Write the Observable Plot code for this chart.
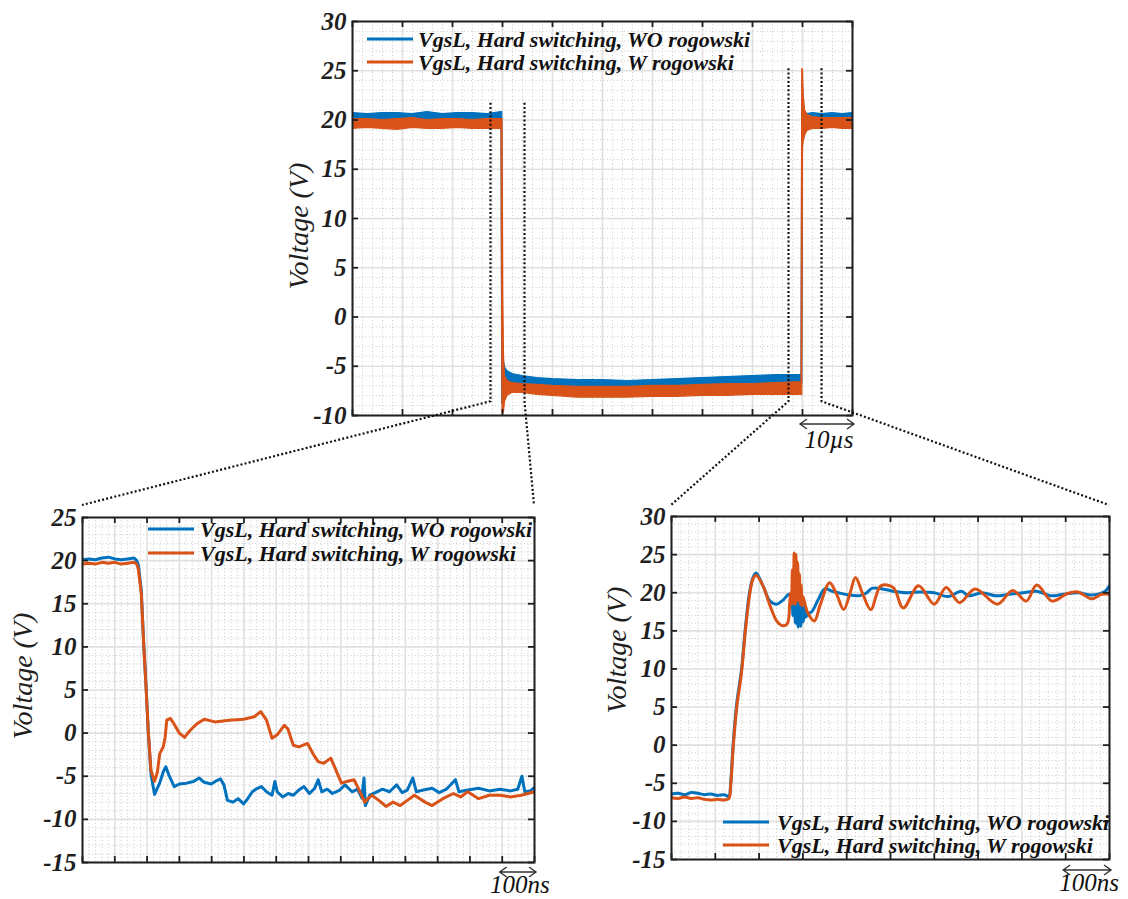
<!DOCTYPE html>
<html><head><meta charset="utf-8">
<script src="https://cdn.jsdelivr.net/npm/d3@7"></script>
<script src="https://cdn.jsdelivr.net/npm/@observablehq/plot@0.6"></script>
<style>
body{margin:0;background:#fff;}
#fig{position:relative;width:1128px;height:899px;overflow:hidden;background:#fff;}
</style></head><body><div id="fig"></div>
<script>
// ---------------- DATA ----------------
const legendLabels = ["VgsL, Hard switching, WO rogowski", "VgsL, Hard switching, W rogowski"];
const yLabel = "Voltage (V)";
const scaleLabels = ["10µs", "100ns", "100ns"];

// Top panel (time in µs): [t, low, high] envelopes of the noisy traces
const topBlue = [[0,19.9,20.7],[3,19.8,20.6],[6,19.9,20.7],[9,19.9,20.7],[12,19.8,20.6],[15,19.9,20.8],[18,19.9,20.6],[21,19.8,20.7],[24,19.9,20.7],[27,19.9,20.6],[29.8,19.9,20.8],
  [29.95,-8.8,20.8],[30.1,-8.8,-2.2],[30.3,-7.2,-4.6],[30.6,-6.9,-5.2],[31,-6.9,-5.5],[32,-6.9,-5.8],[34,-7.0,-6.0],[37,-7.1,-6.2],[40,-7.2,-6.3],[45,-7.3,-6.4],[50,-7.3,-6.4],[55,-7.3,-6.5],[60,-7.2,-6.4],[65,-7.2,-6.3],[70,-7.1,-6.2],[75,-7.0,-6.1],[80,-6.9,-6.0],[85,-6.9,-5.9],[89.8,-6.8,-5.9],
  [89.95,-6.8,21.2],[90.1,19.6,21.3],[90.3,19.8,21.0],[90.6,19.9,20.8],[91,19.9,20.6],[92,19.9,20.7],[94,19.9,20.6],[96,19.9,20.7],[98,19.9,20.6],[100,19.9,20.7]];
const topOrange = [[0,19.1,20.1],[3,19.2,20.1],[6,19.1,20.0],[9,19.0,20.1],[12,19.2,20.2],[15,19.1,20.0],[18,19.1,20.1],[21,19.2,20.1],[24,19.1,20.0],[27,19.1,20.1],[29.8,19.1,20.1],
  [30.0,-9.8,20.1],[30.15,-9.8,2.4],[30.3,-9.6,-4.0],[30.5,-8.6,-6.0],[31,-8.0,-6.5],[32,-7.7,-6.7],[34,-7.7,-6.8],[37,-7.9,-6.9],[40,-8.0,-7.0],[45,-8.2,-7.1],[50,-8.2,-7.1],[55,-8.2,-7.1],[60,-8.1,-7.0],[65,-8.1,-7.0],[70,-8.0,-6.9],[75,-8.0,-6.8],[80,-7.9,-6.8],[85,-7.9,-6.7],[89.8,-7.9,-6.6],
  [89.95,-7.9,25.2],[90.1,17.2,25.0],[90.25,17.8,22.5],[90.5,18.4,21.0],[91,18.9,20.5],[92,19.1,20.3],[94,19.1,20.2],[96,19.2,20.2],[98,19.1,20.2],[100,19.1,20.2]];
const zoomWindowsTop = [[27.7, 34.5], [87.3, 93.9]];   // µs
const zoomTopV = [21.7, 25.2];
const zoomBottomV = -8.6;

// Bottom-left panel (time in ns): [t, V]
const blBlue = [[0,20.1],[20,20.2],[40,20.1],[60,20.3],[80,20.4],[100,20.2],[120,20.1],[140,20.2],[160,20.3],[168,20.0],[173,19.5],[182,16.6],[190,10],[197.5,5],[204,0],[212,-4.7],[223,-7.1],
  [239,-5.8],[250,-4.5],[258,-3.9],[267,-4.8],[284,-6.2],[300,-5.9],[322,-5.8],[344,-5.6],[361,-5.2],[377,-5.7],[399,-5.9],[416,-5.5],[427,-5.3],[438,-6.0],[449,-7.8],[466,-8.0],[482,-7.6],[499,-8.2],[510,-7.7],
  [526,-6.8],[537,-6.5],[554,-6.2],[570,-6.8],[587,-7.2],[596,-5.6],[603,-6.8],[620,-7.4],[637,-7.0],[653,-7.2],[670,-6.6],[686,-6.2],[703,-7.0],[719,-6.4],[730,-5.4],[741,-6.8],[758,-6.5],[774,-7.0],[797,-6.6],[813,-6.0],
  [835,-6.8],[852,-6.5],[865,-7.5],[872,-5.2],[876,-8.4],[890,-7.2],[907,-6.9],[929,-6.5],[951,-6.8],[973,-6.0],[990,-6.9],[1006,-6.6],[1023,-5.2],[1034,-6.8],[1056,-6.6],[1083,-6.4],[1105,-6.9],[1127,-6.5],[1155,-5.4],[1166,-6.8],
  [1194,-6.6],[1227,-6.4],[1260,-6.7],[1293,-6.5],[1326,-6.7],[1348,-6.5],[1361,-5.0],[1370,-6.8],[1387,-6.7],[1400,-6.3]];
const blOrange = [[0,19.6],[20,19.7],[40,19.6],[60,19.8],[80,19.7],[100,19.8],[120,19.6],[140,19.7],[160,19.8],[168,19.6],[173,19.0],[182,16.2],[190,10],[197.5,4.8],[204,0],[212,-4.3],[223,-5.6],
  [232,-4.5],[239,-2.4],[250,-1.6],[256,-0.5],[261,1.5],[272,1.7],[283,1.1],[300,0],[316,-0.5],[333,0.3],[355,1.1],[377,1.6],[410,1.3],[454,1.5],[499,1.6],[532,1.9],[552,2.5],[570,1.5],[587,-0.6],
  [603,-0.2],[625,0.9],[636,0.5],[653,-1.4],[670,-1.6],[697,-1.2],[714,-2.4],[730,-3.3],[747,-3.5],[769,-2.9],[785,-4.3],[802,-5.8],[819,-5.6],[841,-5.4],[857,-6.6],[874,-8.0],[896,-7.2],[918,-7.8],[940,-8.5],[962,-8.0],
  [984,-8.4],[1006,-7.8],[1028,-7.2],[1061,-8.0],[1083,-8.4],[1116,-7.6],[1149,-7.0],[1171,-7.4],[1193,-6.8],[1227,-7.6],[1260,-7.2],[1293,-7.2],[1326,-7.4],[1359,-7.2],[1400,-6.8]];

// Bottom-right panel (time in ns): [t, V]
const brBlue = [[0,-6.4],[15,-6.3],[30,-6.5],[45,-6.2],[60,-6.3],[75,-6.5],[90,-6.4],[105,-6.6],[120,-6.5],[131,-6.7],[135,-5.0],[141,0.3],[149,5.5],[160,10],[168,15],[178,20],[186,22.0],[193,22.6],
  [209,20.9],[225,18.9],[240,18.5],[256,19.1],[268,19.8],[274,19.5],[277,17.0],[280,19.7],[283,16.0],[286,19.4],[289,15.5],[292,19.0],[295,15.6],[298,18.6],[301,16.2],[304,18.0],[307,16.8],[310,17.2],[320,17.5],
  [335,19.1],[350,20.5],[367,20.2],[381,20.0],[404,19.7],[428,19.6],[443,19.9],[459,20.6],[482,20.5],[506,20.2],[537,20.0],[568,20.1],[600,20.0],[631,19.5],[662,20.2],[678,19.6],[709,20.0],[740,19.6],
  [771,19.8],[803,20.0],[834,20.2],[865,19.6],[896,19.8],[928,20.0],[959,19.7],[990,20.2],[1000,20.9]];
const brOrange = [[0,-6.9],[15,-7.0],[30,-6.8],[45,-7.0],[60,-6.9],[75,-7.1],[90,-7.2],[105,-7.1],[120,-7.2],[131,-7.0],[135,-5.4],[141,-0.2],[149,5.0],[160,9.6],[168,14.6],[178,19.6],[186,21.8],[193,22.3],
  [209,20.9],[225,18.3],[240,16.3],[252,15.7],[264,15.9],[270,18.7],[272,20.0],[274,18.5],[276,23.0],[278,18.6],[280,25.2],[282,18.5],[284,25.0],[286,18.8],[288,24.0],[290,19.0],[292,22.5],[294,18.5],[296,21.0],[298,18.3],
  [300,19.5],[310,17.5],[326,16.3],[340,18.5],[361,21.3],[377,19.8],[393,17.8],[408,20.0],[420,22.0],[437,19.8],[455,17.8],[478,20.9],[506,20.7],[529,18.0],[564,20.9],[600,18.5],[627,20.7],[658,18.7],
  [693,20.5],[744,18.5],[779,20.3],[810,18.9],[834,21.0],[869,18.9],[904,19.9],[928,20.1],[959,19.2],[982,19.8],[1000,19.8]];

// Axis ticks
const topXTicks = [0,10,20,30,40,50,60,70,80,90,100];
const topYTicks = [-10,-5,0,5,10,15,20,25,30];
const blXTicks = [0,100,200,300,400,500,600,700,800,900,1000,1100,1200,1300,1400];
const blYTicks = [-15,-10,-5,0,5,10,15,20,25];
const brXTicks = [0,100,200,300,400,500,600,700,800,900,1000];
const brYTicks = [-15,-10,-5,0,5,10,15,20,25,30];

// ---------------- STYLE ----------------
const BLUE = "#0072BD", ORANGE = "#D95319", INK = "#1f1f1f";
const FONT = "'Liberation Serif','Times New Roman',serif";

function minorOf(ticks, n) {
  const out = [];
  for (let i = 0; i + 1 < ticks.length; i++)
    for (let k = 1; k < n; k++) out.push(ticks[i] + k * (ticks[i+1] - ticks[i]) / n);
  return out;
}

function panel(cfg) {
  const {xTicks, yTicks, W, H, mL, mR, mT, mB, traces, left, top} = cfg;
  const xd = [xTicks[0], xTicks[xTicks.length-1]], yd = [yTicks[0], yTicks[yTicks.length-1]];
  const ty = (yd[1]-yd[0]) * 6 / (H - mT - mB);
  const tx = (xd[1]-xd[0]) * 6 / (W - mL - mR);
  const tk = {stroke: INK, strokeWidth: 1.8};
  const chart = Plot.plot({
    width: W, height: H, marginLeft: mL, marginRight: mR, marginTop: mT, marginBottom: mB,
    x: {domain: xd, axis: null},
    y: {domain: yd},
    style: {background: "transparent", overflow: "visible"},
    marks: [
      Plot.ruleX(minorOf(xTicks, 5), {stroke: "#c4c4c4", strokeWidth: 0.9, strokeDasharray: "1 2.4"}),
      Plot.ruleY(minorOf(yTicks, 5), {stroke: "#c4c4c4", strokeWidth: 0.9, strokeDasharray: "1 2.4"}),
      Plot.ruleX(xTicks, {stroke: "#e0e0e0", strokeWidth: 1.6}),
      Plot.ruleY(yTicks, {stroke: "#e0e0e0", strokeWidth: 1.6}),
      ...traces,
      Plot.frame({stroke: INK, strokeWidth: 2}),
      Plot.ruleX(xTicks, {y1: yd[0], y2: yd[0] + ty, ...tk}),
      Plot.ruleX(xTicks, {y1: yd[1] - ty, y2: yd[1], ...tk}),
      Plot.ruleY(yTicks, {x1: xd[0], x2: xd[0] + tx, ...tk}),
      Plot.ruleY(yTicks, {x1: xd[1] - tx, x2: xd[1], ...tk}),
      Plot.axisY(yTicks, {anchor: "left", tickSize: 0, tickPadding: 6, label: null,
        tickFormat: d => String(d), fontSize: 25, fontWeight: "bold", fontStyle: "italic",
        fontFamily: FONT, fill: INK})
    ]
  });
  chart.style.position = "absolute";
  chart.style.left = left + "px";
  chart.style.top = top + "px";
  document.getElementById("fig").appendChild(chart);
  const sx = chart.scale("x"), sy = chart.scale("y");
  return {X: v => left + sx.apply(v), Y: v => top + sy.apply(v), xd, yd};
}

const line = (data, color, curve) => Plot.line(data, {x: d => d[0], y: d => d[1], stroke: color, strokeWidth: 3, curve: curve || "linear", clip: true});
const band = (data, color) => Plot.areaY(data, {x: d => d[0], y1: d => d[1], y2: d => d[2], fill: color, stroke: color, strokeWidth: 1.2, clip: true});

const T = panel({xTicks: topXTicks, yTicks: topYTicks, W: 620, H: 460, mL: 92, mR: 28, mT: 21, mB: 45, left: 260, top: 0,
  traces: [band(topBlue, BLUE), band(topOrange, ORANGE)]});
const BL = panel({xTicks: blXTicks, yTicks: blYTicks, W: 560, H: 419, mL: 82, mR: 26, mT: 37, mB: 37, left: 0, top: 480,
  traces: [line(blBlue, BLUE), line(blOrange, ORANGE)]});
const BR = panel({xTicks: brXTicks, yTicks: brYTicks, W: 548, H: 419, mL: 91, mR: 19, mT: 36, mB: 40, left: 580, top: 480,
  traces: [line(brBlue, BLUE, "catmull-rom"), line(brOrange, ORANGE, "catmull-rom")]});

// ---------------- OVERLAY: connectors, legends, labels, scale bars ----------------
const ov = d3.select("#fig").append("svg")
  .attr("width", 1128).attr("height", 899)
  .style("position", "absolute").style("left", "0px").style("top", "0px").style("overflow", "visible");

const dotted = {stroke: "#111", "stroke-width": 2.2, "stroke-dasharray": "2 2.2", fill: "none"};
function poly(pts) {
  const p = ov.append("path").attr("d", "M" + pts.map(q => q.join(",")).join("L"));
  Object.entries(dotted).forEach(([k, v]) => p.attr(k, v));
}
const dests = [
  [[BL.X(BL.xd[0]), BL.Y(BL.yd[1]) - 12], [BL.X(BL.xd[1]), BL.Y(BL.yd[1]) - 12]],
  [[BR.X(BR.xd[0]), BR.Y(BR.yd[1]) - 11], [BR.X(BR.xd[1]), BR.Y(BR.yd[1]) - 11]]
];
zoomWindowsTop.forEach((w, i) => {
  w.forEach((t, j) => {
    poly([[T.X(t), T.Y(zoomTopV[i])], [T.X(t), T.Y(zoomBottomV)], dests[i][j]]);
  });
});

function legend(P, dxLine, dyFirst, gap, dxText) {
  const fl = P.X(P.xd[0]), ft = P.Y(P.yd[1]);
  [BLUE, ORANGE].forEach((c, i) => {
    const y = ft + dyFirst + i * gap;
    ov.append("line").attr("x1", fl + dxLine).attr("x2", fl + dxLine + 46).attr("y1", y).attr("y2", y)
      .attr("stroke", c).attr("stroke-width", 3);
    ov.append("text").attr("x", fl + dxText).attr("y", y + 7.5).text(legendLabels[i])
      .attr("font-family", FONT).attr("font-size", 22).attr("font-weight", "bold").attr("font-style", "italic").attr("fill", "#111");
  });
}
legend(T, 15, 18, 23, 66);
legend(BL, 66, 12, 24, 118);
legend(BR, 52, 306, 23, 106);

function ylab(x, y) {
  ov.append("text").attr("transform", `translate(${x},${y}) rotate(-90)`).attr("text-anchor", "middle")
    .attr("font-family", FONT).attr("font-size", 28).attr("font-style", "italic").attr("fill", INK).text(yLabel);
}
ylab(308, 226);
ylab(32, 676);
ylab(626, 650);

function scaleBar(P, ticks, label, dy, dyText) {
  const x0 = P.X(ticks[ticks.length-2]) - 2, x1 = P.X(ticks[ticks.length-1]) + 2, y = P.Y(P.yd[0]) + dy;
  ov.append("path").attr("d", `M${x0},${y}L${x1},${y}M${x0+7},${y-5}L${x0},${y}L${x0+7},${y+5}M${x1-7},${y-5}L${x1},${y}L${x1-7},${y+5}`)
    .attr("stroke", "#333").attr("stroke-width", 1.4).attr("fill", "none");
  ov.append("text").attr("x", (x0 + x1) / 2 + 2).attr("y", y + dyText).attr("text-anchor", "middle")
    .attr("font-family", FONT).attr("font-size", 25).attr("font-style", "italic").attr("fill", "#111").text(label);
}
scaleBar(T, topXTicks, scaleLabels[0], 9, 24);
scaleBar(BL, blXTicks, scaleLabels[1], 10, 21);
scaleBar(BR, brXTicks, scaleLabels[2], 11, 21);
</script></body></html>
